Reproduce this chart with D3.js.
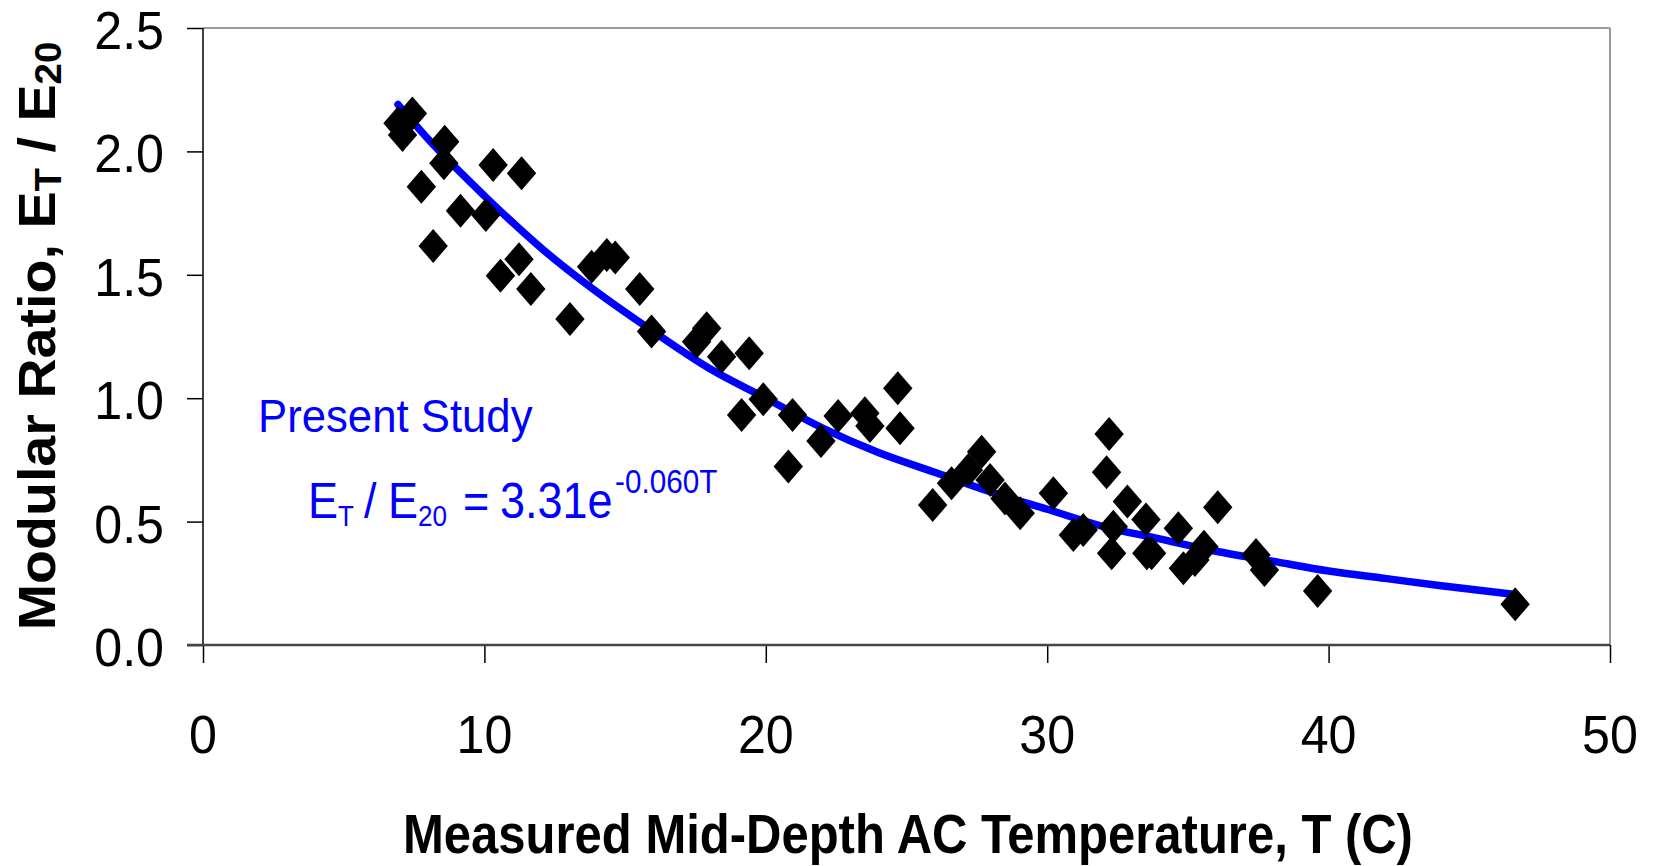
<!DOCTYPE html>
<html>
<head>
<meta charset="utf-8">
<script src="https://cdn.jsdelivr.net/npm/d3@7"></script>
<style>
  html, body { margin: 0; padding: 0; background: #fff; }
  svg { display: block; font-family: "Liberation Sans", Arial, sans-serif; }
</style>
</head>
<body>
<svg id="chart" width="1655" height="866"></svg>
<script>
// measured points (T in C, E_T / E_20)
const temps = [6.93, 7.09, 7.44, 7.76, 8.18, 8.59, 8.56, 9.15, 10.05, 10.31, 10.57, 11.23, 11.32, 11.65,
  13.04, 13.81, 14.35, 14.65, 15.52, 15.94, 17.54, 17.90, 18.43, 19.41, 19.14, 19.91, 20.80, 20.95,
  21.96, 22.57, 23.52, 23.70, 24.69, 24.77, 25.93, 26.60, 27.20, 27.67, 27.97, 28.50, 29.04, 30.22,
  30.93, 31.28, 32.11, 32.20, 32.35, 32.29, 32.85, 33.51, 33.54, 33.71, 34.66, 34.84, 35.25, 35.57,
  36.06, 37.42, 37.72, 39.61, 46.63];
const ratios = [2.114, 2.066, 2.154, 1.857, 1.617, 2.039, 1.952, 1.760, 1.742, 1.945, 1.496, 1.563, 1.911, 1.442,
  1.321, 1.533, 1.580, 1.570, 1.442, 1.270, 1.229, 1.283, 1.168, 1.182, 0.932, 0.996, 0.723, 0.932,
  0.827, 0.928, 0.939, 0.887, 1.040, 0.878, 0.567, 0.655, 0.709, 0.783, 0.669, 0.594, 0.534, 0.615,
  0.446, 0.466, 0.700, 0.855, 0.479, 0.372, 0.581, 0.509, 0.372, 0.372, 0.473, 0.311, 0.344, 0.398,
  0.558, 0.365, 0.304, 0.219, 0.165];

// fitted curve
const fitTemps = [6.93, 8, 10, 12, 14, 16, 18, 20, 22, 24, 26, 28, 30, 32, 34, 36, 38, 40, 42, 44, 46.63];
const fitRatios = [2.19, 2.05, 1.82, 1.61, 1.43, 1.27, 1.12, 1.00, 0.88, 0.78, 0.70, 0.62, 0.55, 0.48,
  0.43, 0.38, 0.34, 0.30, 0.27, 0.24, 0.205];

const xTicks = [0, 10, 20, 30, 40, 50];
const yTicks = [0, 0.5, 1.0, 1.5, 2.0, 2.5];

const plotL = 203, plotR = 1610, plotT = 28, plotB = 645;

const svg = d3.select("#chart");

const x = d3.scaleLinear().domain([0, 50]).range([plotL, plotR]);
const y = d3.scaleLinear().domain([0, 2.5]).range([plotB, plotT]);

// frame (top + right in grey)
svg.append("line").attr("x1", plotL).attr("x2", plotR).attr("y1", plotT).attr("y2", plotT)
  .attr("stroke", "#9a9a9a").attr("stroke-width", 2);
svg.append("line").attr("x1", plotR).attr("x2", plotR).attr("y1", plotT).attr("y2", plotB)
  .attr("stroke", "#9a9a9a").attr("stroke-width", 2);

// axes, ticks only, labels drawn separately
const yAxis = svg.append("g").attr("transform", `translate(${plotL},0)`)
  .call(d3.axisLeft(y).tickValues(yTicks).tickSize(16).tickFormat(""));
const xAxis = svg.append("g").attr("transform", `translate(0,${plotB})`)
  .call(d3.axisBottom(x).tickValues(xTicks).tickSize(18).tickFormat(""));
yAxis.select(".domain").remove();
xAxis.select(".domain").remove();
svg.selectAll(".tick line").attr("stroke", "#000").attr("stroke-width", 1.5);

svg.append("line").attr("x1", plotL).attr("x2", plotL).attr("y1", plotT).attr("y2", plotB)
  .attr("stroke", "#000").attr("stroke-width", 1.5);
svg.append("line").attr("x1", plotL - 16).attr("x2", plotR).attr("y1", plotB).attr("y2", plotB)
  .attr("stroke", "#444").attr("stroke-width", 2.5);

// tick labels
yTicks.forEach(v => {
  svg.append("text")
    .attr("transform", `translate(164,${y(v) + 21}) scale(0.93,1)`)
    .attr("text-anchor", "end")
    .attr("font-size", 54)
    .attr("fill", "#000")
    .text(d3.format(".1f")(v));
});
xTicks.forEach(v => {
  svg.append("text")
    .attr("transform", `translate(${x(v)},753) scale(0.93,1)`)
    .attr("text-anchor", "middle")
    .attr("font-size", 54)
    .attr("fill", "#000")
    .text(v);
});

// axis titles
svg.append("text")
  .attr("transform", "translate(908,853) scale(0.875,1)")
  .attr("text-anchor", "middle")
  .attr("font-size", 56)
  .attr("font-weight", "bold")
  .text("Measured Mid-Depth AC Temperature, T (C)");

const yTitle = svg.append("text")
  .attr("transform", "translate(55,336) rotate(-90) scale(1.07,1)")
  .attr("text-anchor", "middle")
  .attr("font-size", 52)
  .attr("font-weight", "bold");
yTitle.append("tspan").text("Modular Ratio, E");
yTitle.append("tspan").attr("font-size", 36).attr("dy", 6).text("T");
yTitle.append("tspan").attr("dy", -6).text(" / E");
yTitle.append("tspan").attr("font-size", 36).attr("dy", 6).text("20");

// fitted line
const line = d3.line()
  .x((d, i) => x(fitTemps[i]))
  .y(d => y(d))
  .curve(d3.curveMonotoneX);

svg.append("path")
  .datum(fitRatios)
  .attr("d", line)
  .attr("fill", "none")
  .attr("stroke", "#0000ff")
  .attr("stroke-width", 7.5)
  .attr("stroke-linecap", "round")
  .attr("stroke-linejoin", "round");

// diamonds
const hw = 14.7, hh = 17;
svg.append("g")
  .selectAll("path")
  .data(temps)
  .enter().append("path")
  .attr("d", (t, i) => {
    const cx = x(t), cy = y(ratios[i]);
    return `M${cx},${cy - hh}L${cx + hw},${cy}L${cx},${cy + hh}L${cx - hw},${cy}Z`;
  })
  .attr("fill", "#000");

// annotation
svg.append("text")
  .attr("transform", "translate(258,432) scale(0.93,1)")
  .attr("font-size", 47)
  .attr("fill", "#0000ff")
  .text("Present Study");

const sx = 0.9;
const eq = svg.append("text")
  .attr("transform", `scale(${sx},1)`)
  .attr("fill", "#0000ff")
  .attr("font-size", 50);
eq.append("tspan").attr("x", 308 / sx).attr("y", 518).text("E");
eq.append("tspan").attr("x", 338 / sx).attr("y", 526).attr("font-size", 29).text("T");
eq.append("tspan").attr("x", 364 / sx).attr("y", 518).text("/");
eq.append("tspan").attr("x", 388 / sx).attr("y", 518).text("E");
eq.append("tspan").attr("x", 418 / sx).attr("y", 526).attr("font-size", 29).text("20");
eq.append("tspan").attr("x", 463 / sx).attr("y", 518).text("=");
eq.append("tspan").attr("x", 500 / sx).attr("y", 518).text("3.31e");
eq.append("tspan").attr("x", 615 / sx).attr("y", 493).attr("font-size", 33).text("-0.060T");
</script>
</body>
</html>
